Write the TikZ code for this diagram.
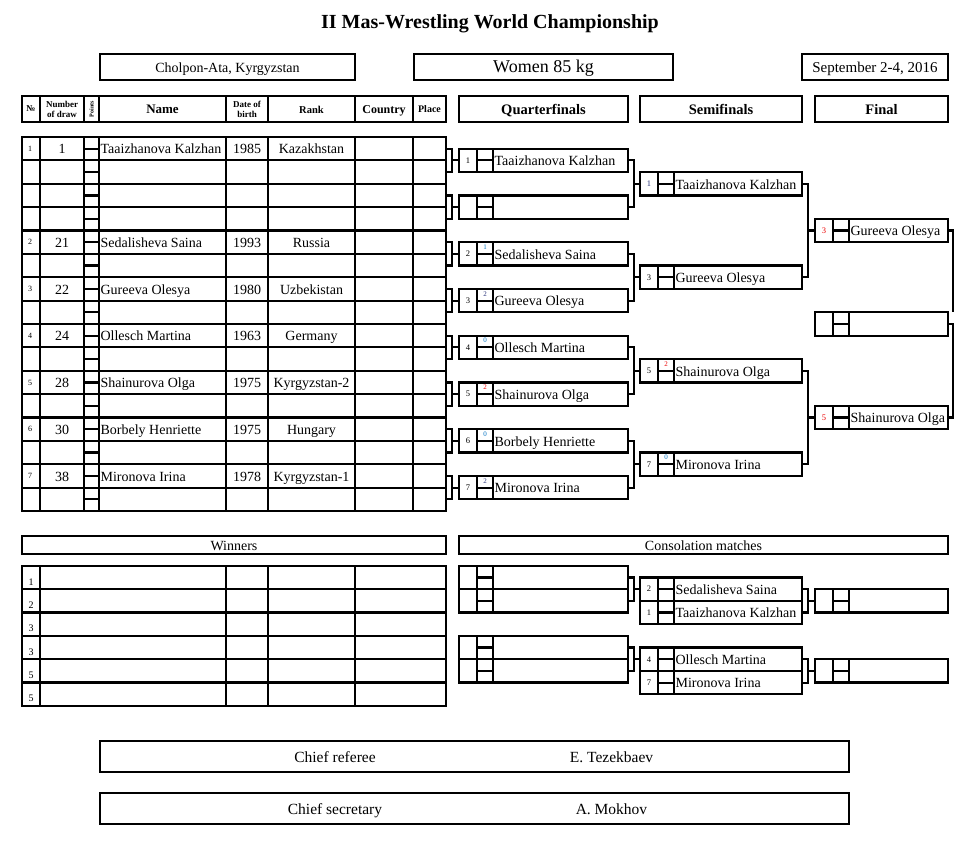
\documentclass[tikz,border=0pt]{standalone}
\usepackage{fontspec}
\setmainfont{Liberation Serif}
\usetikzlibrary{positioning,calc}
\definecolor{ptred}{RGB}{235,0,0}
\definecolor{ptblue}{RGB}{0,112,192}
\definecolor{ptnavy}{RGB}{40,50,120}
\newcommand{\fsz}[1]{\fontsize{#1}{#1}\selectfont}
\tikzset{
	cellbox/.style={draw, inner sep=0pt, outer sep=0pt, anchor=north west, align=center},
	lineone/.style={text height=#1, text depth=0.5pt},
	lineone/.default=10.5pt,
	matchcell/.style={draw, inner sep=0pt, outer sep=0pt, minimum height=23.375pt, anchor=west},
	celltxt/.style={inner sep=0.5pt, font=\fsz{14}, text height=11.5pt, text depth=1pt},
	seedtxt/.style={inner sep=0pt, font=\fsz{8.5}},
	ptstxt/.style={inner sep=0pt, font=\fsz{7}},
	foottxt/.style={inner sep=0pt, font=\fsz{15.5}, text height=12pt, text depth=1.5pt}
}
% one bout: name, west point, width, seed, seed colour, points, points colour, wrestler
\newcommand{\matchbox}[8]{%
	\node[matchcell, minimum width=#3pt] (#1) at #2 {};
	\draw ([xshift=18pt]#1.north west) -- ([xshift=18pt]#1.south west)
		([xshift=34pt]#1.north west) -- ([xshift=34pt]#1.south west)
		([xshift=18pt]#1.west) -- ([xshift=34pt]#1.west);
	\node[seedtxt, text=#5] (#1s) at ([xshift=9pt]#1.west) {#4};
	\node[ptstxt, text=#7] (#1p) at ([xshift=26pt,yshift=-5pt]#1.north west) {#6};
	\node[celltxt, anchor=west] (#1n) at ([xshift=34pt]#1.west) {#8};
}

\begin{document}
\begin{tikzpicture}[x=1pt, y=-1pt, line width=2.2pt]
	\useasboundingbox (0,0) rectangle (968,843);
	\node[font=\bfseries\fsz{20}] (title) at (490,24) {II Mas-Wrestling World Championship};
	\node[cellbox, lineone, minimum width=255pt, minimum height=26pt, font=\fsz{14}] (venue) at (100,54) {Cholpon-Ata, Kyrgyzstan};
	\node[cellbox, lineone=12.5pt, minimum width=259pt, minimum height=26pt, font=\fsz{18}] (weight) at (414,54) {Women 85 kg};
	\node[cellbox, lineone=11pt, minimum width=146pt, minimum height=26pt, font=\fsz{15}] (dates) at (802,54) {September 2-4, 2016};

	% table head
	\node[cellbox, minimum width=18pt, minimum height=26pt, font=\bfseries\fsz{9}] (hno) at (22,96) {№};
	\node[cellbox, minimum width=44pt, minimum height=26pt, font=\bfseries\fontsize{9}{10}\selectfont, right=0pt of hno] (hdraw) {Number\\of draw};
	\node[cellbox, minimum width=15pt, minimum height=26pt, right=0pt of hdraw] (hpts) {};
	\node[rotate=90, inner sep=0pt, font=\bfseries\fsz{6}] (hptstxt) at (hpts) {Points};
	\node[cellbox, lineone=10pt, minimum width=127pt, minimum height=26pt, font=\bfseries\fsz{13}, right=0pt of hpts] (hname) {Name};
	\node[cellbox, minimum width=42pt, minimum height=26pt, font=\bfseries\fontsize{9}{10}\selectfont, right=0pt of hname] (hbirth) {Date of\\birth};
	\node[cellbox, lineone=8.5pt, minimum width=87pt, minimum height=26pt, font=\bfseries\fsz{10.5}, right=0pt of hbirth] (hrank) {Rank};
	\node[cellbox, lineone=9pt, minimum width=58pt, minimum height=26pt, font=\bfseries\fsz{12}, right=0pt of hrank] (hcountry) {Country};
	\node[cellbox, lineone=8pt, minimum width=33pt, minimum height=26pt, font=\bfseries\fsz{10}, right=0pt of hcountry] (hplace) {Place};
	\node[cellbox, lineone=11pt, minimum width=169pt, minimum height=26pt, font=\bfseries\fsz{14.5}] (hqf) at (459,96) {Quarterfinals};
	\node[cellbox, lineone=11pt, minimum width=162pt, minimum height=26pt, font=\bfseries\fsz{14.5}] (hsf) at (640,96) {Semifinals};
	\node[cellbox, lineone=11pt, minimum width=133pt, minimum height=26pt, font=\bfseries\fsz{14.5}] (hfin) at (815,96) {Final};

	% draw table
	\begin{scope}[line cap=rect]
		\foreach \k in {0,...,16} \draw (22,{137+23.375*\k}) -- (446,{137+23.375*\k});
		\foreach \xx in {22,40,84,99,226,268,355,413,446} \draw (\xx,137) -- (\xx,511);
		\foreach \k in {0,...,15} \draw (84,{148.6875+23.375*\k}) -- (99,{148.6875+23.375*\k});
	\end{scope}
	\foreach \k/\no/\dr/\nm/\yr/\cn in {0/1/1/Taaizhanova Kalzhan/1985/Kazakhstan,
		4/2/21/Sedalisheva Saina/1993/Russia, 6/3/22/Gureeva Olesya/1980/Uzbekistan,
		8/4/24/Ollesch Martina/1963/Germany, 10/5/28/Shainurova Olga/1975/Kyrgyzstan-2,
		12/6/30/Borbely Henriette/1975/Hungary, 14/7/38/Mironova Irina/1978/Kyrgyzstan-1} {
		\node[seedtxt, font=\fsz{8}] (no\no) at (30,{148.6875+23.375*\k}) {\no};
		\node[celltxt] (dr\no) at (62,{148.6875+23.375*\k}) {\dr};
		\node[celltxt, anchor=west] (nm\no) at (99,{148.6875+23.375*\k}) {\nm};
		\node[celltxt] (yr\no) at (247,{148.6875+23.375*\k}) {\yr};
		\node[celltxt] (cn\no) at (311.5,{148.6875+23.375*\k}) {\cn};
	}

	% quarterfinals
	\matchbox{q1}{(459,160.375)}{169}{1}{black}{}{black}{Taaizhanova Kalzhan}
	\matchbox{q2}{(459,207.125)}{169}{}{black}{}{black}{}
	\matchbox{q3}{(459,253.875)}{169}{2}{black}{1}{ptblue}{Sedalisheva Saina}
	\matchbox{q4}{(459,300.625)}{169}{3}{black}{2}{ptnavy}{Gureeva Olesya}
	\matchbox{q5}{(459,347.375)}{169}{4}{black}{0}{ptblue}{Ollesch Martina}
	\matchbox{q6}{(459,394.125)}{169}{5}{black}{2}{ptred}{Shainurova Olga}
	\matchbox{q7}{(459,440.875)}{169}{6}{black}{0}{ptblue}{Borbely Henriette}
	\matchbox{q8}{(459,487.625)}{169}{7}{black}{2}{ptnavy}{Mironova Irina}
	\foreach \i in {1,...,8} {
		\coordinate (ta\i) at (446,{148.6875+46.75*(\i-1)});
		\coordinate (tb\i) at (446,{172.0625+46.75*(\i-1)});
		\draw (ta\i) -- ++(6,0) coordinate (tk\i) |- (tb\i);
		\draw (q\i.west) -- (q\i.west -| tk\i);
	}

	% semifinals and final
	\matchbox{s1}{(640,183.75)}{162}{1}{ptnavy}{}{black}{Taaizhanova Kalzhan}
	\matchbox{s2}{(640,277.25)}{162}{3}{black}{}{black}{Gureeva Olesya}
	\matchbox{s3}{(640,370.75)}{162}{5}{black}{2}{ptred}{Shainurova Olga}
	\matchbox{s4}{(640,464.25)}{162}{7}{black}{0}{ptblue}{Mironova Irina}
	\matchbox{f1}{(815,230.5)}{133}{3}{ptred}{}{black}{Gureeva Olesya}
	\matchbox{f2}{(815,417.5)}{133}{5}{ptred}{}{black}{Shainurova Olga}
	\matchbox{fw}{(815,324)}{133}{}{black}{}{black}{}
	\foreach \a/\b/\c in {q1/q2/s1, q3/q4/s2, q5/q6/s3, q7/q8/s4, s1/s2/f1, s3/s4/f2} {
		\draw (\a.east) -- ++(6,0) coordinate (k\c) |- (\b.east);
		\draw (\c.west) -- (\c.west -| k\c);
	}
	\draw (f1.east) -- ++(5,0) coordinate (kfw) -- (kfw |- fw.north);
	\draw (f2.east) -- ++(5,0) |- (fw.east);

	% winners
	\node[cellbox, lineone, minimum width=424pt, minimum height=18pt, font=\fsz{14}] (winners) at (22,536) {Winners};
	\begin{scope}[line cap=rect]
		\foreach \k in {0,...,6} \draw (22,{565.7+23.375*\k}) -- (446,{565.7+23.375*\k});
		\foreach \xx in {22,40,226,268,355,446} \draw (\xx,565.7) -- (\xx,705.95);
	\end{scope}
	\foreach \k/\pl in {0/1,1/2,2/3,3/3,4/5,5/5}
		\node[inner sep=0pt, font=\fsz{10}] (pl\k) at (31,{565.7+23.375*\k+16}) {\pl};

	% consolation matches
	\node[cellbox, lineone, minimum width=489pt, minimum height=18pt, font=\fsz{14}] (consol) at (459,536) {Consolation matches};
	\matchbox{ca1}{(459,577.4)}{169}{}{black}{}{black}{}
	\matchbox{ca2}{(459,600.8)}{169}{}{black}{}{black}{}
	\matchbox{cm1}{(640,589.1)}{162}{2}{black}{}{black}{Sedalisheva Saina}
	\matchbox{cm2}{(640,612.4)}{162}{1}{black}{}{black}{Taaizhanova Kalzhan}
	\matchbox{cr1}{(815,600.8)}{133}{}{black}{}{black}{}
	\matchbox{ca3}{(459,647.5)}{169}{}{black}{}{black}{}
	\matchbox{ca4}{(459,670.9)}{169}{}{black}{}{black}{}
	\matchbox{cm3}{(640,659.2)}{162}{4}{black}{}{black}{Ollesch Martina}
	\matchbox{cm4}{(640,682.6)}{162}{7}{black}{}{black}{Mironova Irina}
	\matchbox{cr2}{(815,670.9)}{133}{}{black}{}{black}{}
	\foreach \a/\b/\c in {ca1/ca2/cm1, cm1/cm2/cr1, ca3/ca4/cm3, cm3/cm4/cr2} {
		\draw (\a.east) -- ++(6,0) coordinate (k\a) |- (\b.east);
		\draw (\c.west) -- (\c.west -| k\a);
	}

	% officials
	\node[cellbox, minimum width=749pt, minimum height=31pt] (referee) at (100,741) {};
	\node[foottxt] (refrole) at (335,757) {Chief referee};
	\node[foottxt] (refname) at (611.5,757) {E. Tezekbaev};
	\node[cellbox, minimum width=749pt, minimum height=31pt] (secretary) at (100,793) {};
	\node[foottxt] (secrole) at (335,809) {Chief secretary};
	\node[foottxt] (secname) at (611.5,809) {A. Mokhov};
\end{tikzpicture}
\end{document}
